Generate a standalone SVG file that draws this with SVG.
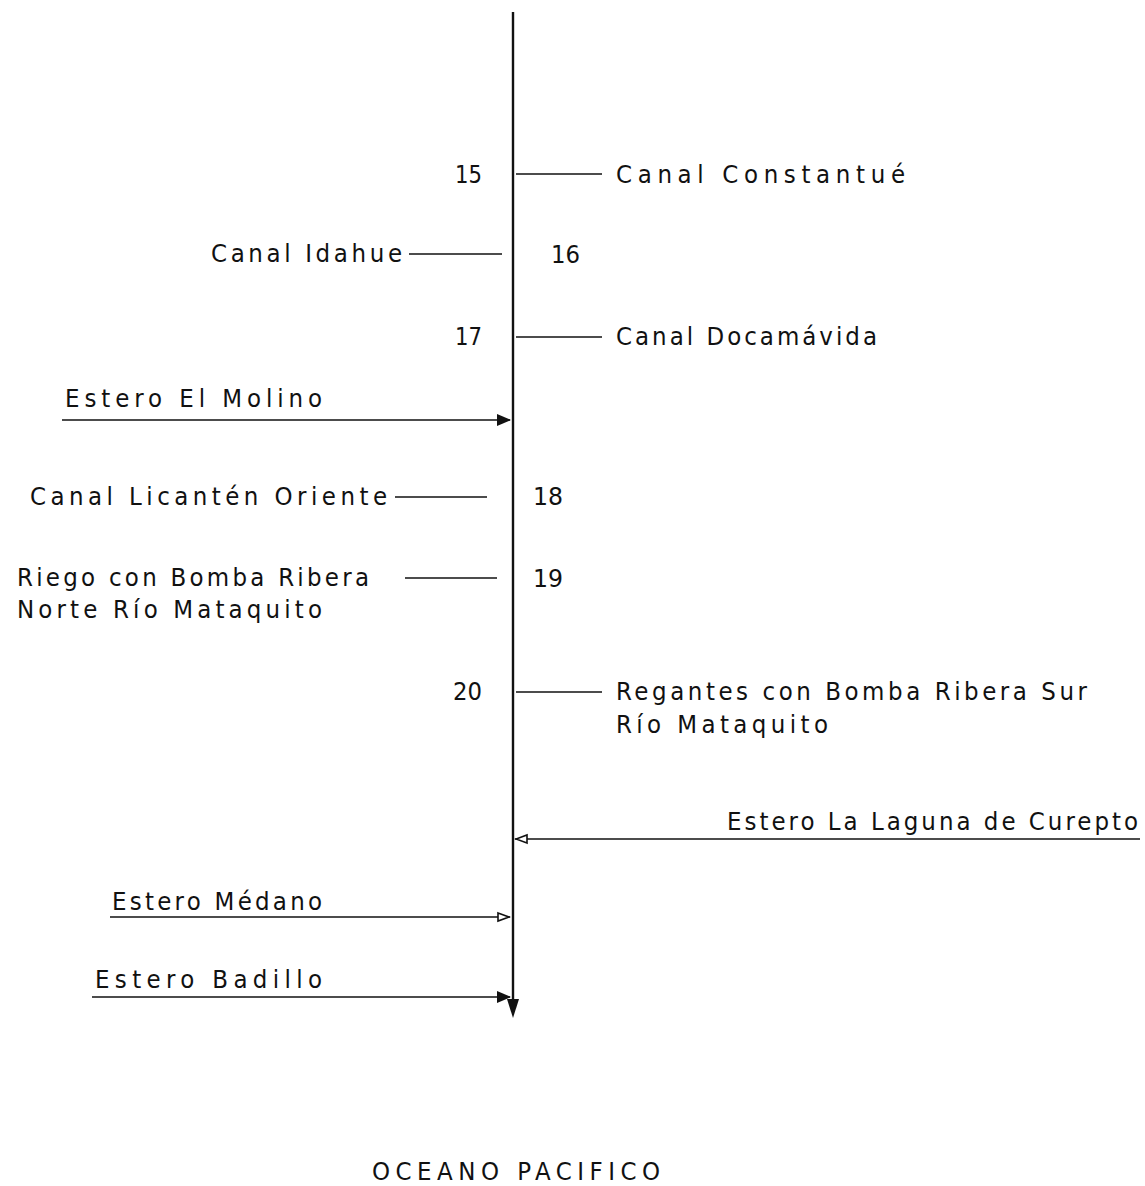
<svg xmlns="http://www.w3.org/2000/svg" width="1145" height="1186" viewBox="0 0 1145 1186">
<style>
text{font-family:"DejaVu Sans Condensed","DejaVu Sans",sans-serif;font-size:25.5px;fill:#111;}
.ln{stroke:#111;stroke-width:1.6;fill:none;}
.main{stroke:#111;stroke-width:2.4;fill:none;}
</style>
<defs>
<marker id="af" markerWidth="14" markerHeight="12" refX="13" refY="6" orient="auto" markerUnits="userSpaceOnUse"><path d="M0,0 L14,6 L0,12 Z" fill="#111"/></marker>
<marker id="ao" markerWidth="14" markerHeight="12" refX="13" refY="6" orient="auto" markerUnits="userSpaceOnUse"><path d="M1,2 L12,6 L1,10 Z" fill="#fff" stroke="#111" stroke-width="1.6"/></marker>
</defs>
<g id="connectors">
<line class="main" x1="513" y1="12" x2="513" y2="1000"/>
<path d="M507,999 L513,1018 L519,999 Z" fill="#111"/>
<line class="ln" x1="516" y1="174" x2="602" y2="174"/>
<line class="ln" x1="409" y1="254" x2="502" y2="254"/>
<line class="ln" x1="516" y1="337" x2="602" y2="337"/>
<line class="ln" x1="62" y1="420" x2="510" y2="420" marker-end="url(#af)"/>
<line class="ln" x1="395" y1="497" x2="487" y2="497"/>
<line class="ln" x1="405" y1="578" x2="497" y2="578"/>
<line class="ln" x1="516" y1="692" x2="602" y2="692"/>
<line class="ln" x1="1140" y1="839" x2="515" y2="839" marker-end="url(#ao)"/>
<line class="ln" x1="110" y1="917" x2="510" y2="917" marker-end="url(#ao)"/>
<line class="ln" x1="92" y1="997" x2="510" y2="997" marker-end="url(#af)"/>
</g>
<g id="n15"><text x="455" y="183" textLength="27" lengthAdjust="spacingAndGlyphs">15</text></g>
<g id="constantue"><text x="616" y="183" textLength="289" lengthAdjust="spacing">Canal Constantué</text></g>
<g id="idahue"><text x="211" y="262" textLength="191" lengthAdjust="spacing">Canal Idahue</text></g>
<g id="n16"><text x="551" y="263" textLength="29" lengthAdjust="spacingAndGlyphs">16</text></g>
<g id="n17"><text x="455" y="345" textLength="27" lengthAdjust="spacingAndGlyphs">17</text></g>
<g id="docamavida"><text x="616" y="345" textLength="261" lengthAdjust="spacing">Canal Docamávida</text></g>
<g id="molino"><text x="65" y="407" textLength="257" lengthAdjust="spacing">Estero El Molino</text></g>
<g id="licanten"><text x="30" y="505" textLength="357" lengthAdjust="spacing">Canal Licantén Oriente</text></g>
<g id="n18"><text x="533" y="505" textLength="30" lengthAdjust="spacingAndGlyphs">18</text></g>
<g id="riego"><text x="17" y="586" textLength="352" lengthAdjust="spacing">Riego con Bomba Ribera</text><text x="17" y="618" textLength="305" lengthAdjust="spacing">Norte Río Mataquito</text></g>
<g id="n19"><text x="533" y="587" textLength="30" lengthAdjust="spacingAndGlyphs">19</text></g>
<g id="n20"><text x="453" y="700" textLength="29" lengthAdjust="spacingAndGlyphs">20</text></g>
<g id="regantes"><text x="616" y="700" textLength="471" lengthAdjust="spacing">Regantes con Bomba Ribera Sur</text><text x="616" y="733" textLength="212" lengthAdjust="spacing">Río Mataquito</text></g>
<g id="curepto"><text x="727" y="830" textLength="411" lengthAdjust="spacing">Estero La Laguna de Curepto</text></g>
<g id="medano"><text x="112" y="910" textLength="210" lengthAdjust="spacing">Estero Médano</text></g>
<g id="badillo"><text x="95" y="988" textLength="227" lengthAdjust="spacing">Estero Badillo</text></g>
<g id="oceano"><text x="372" y="1180" textLength="288" lengthAdjust="spacing">OCEANO PACIFICO</text></g>
</svg>
